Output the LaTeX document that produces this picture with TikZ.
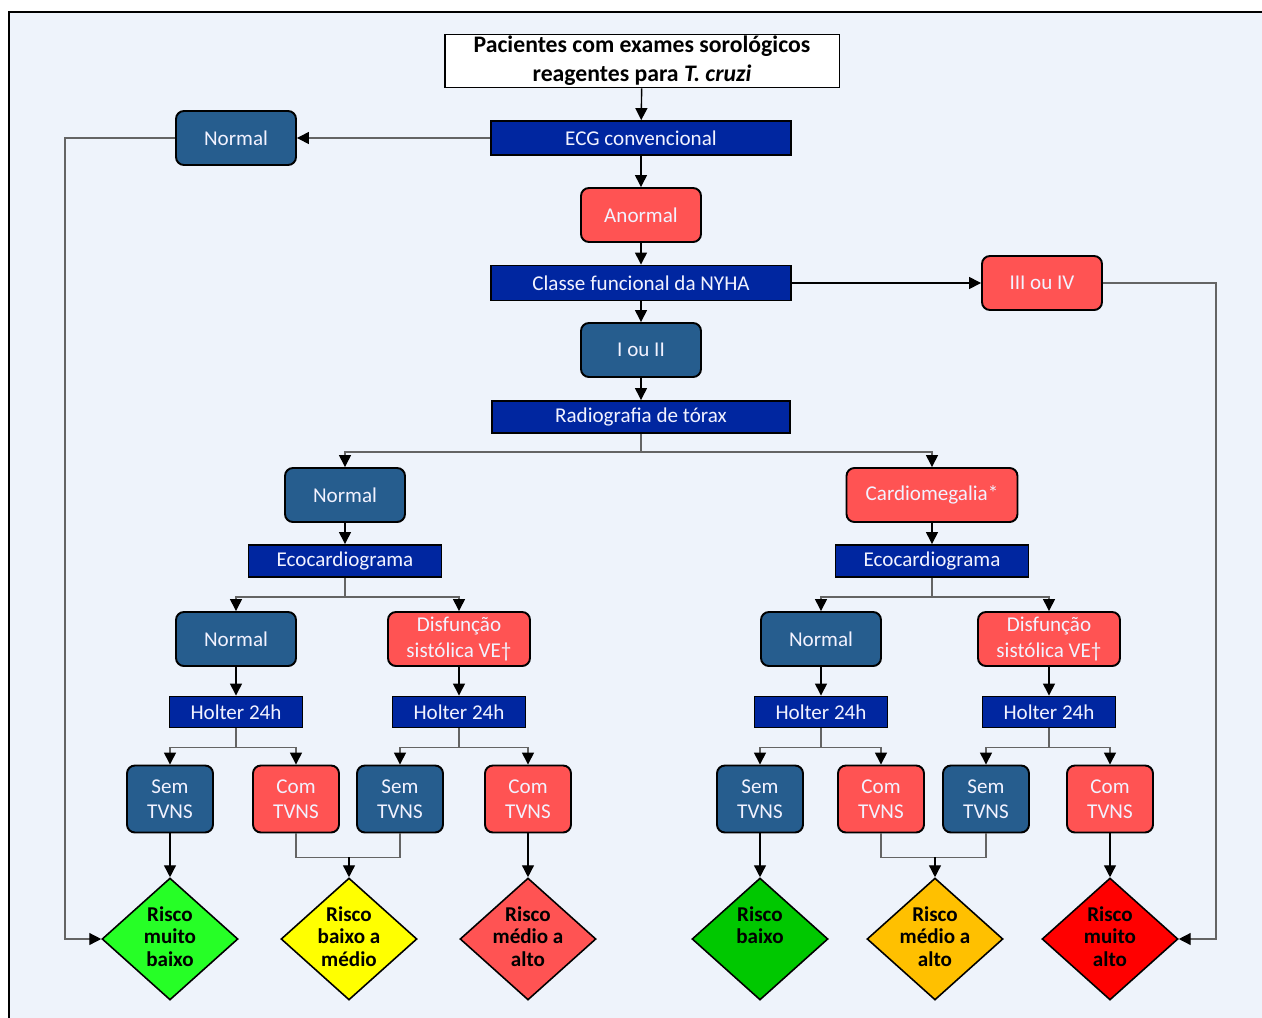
\documentclass[tikz,border=0pt]{standalone}
\usepackage{fontspec}
\setmainfont{Carlito}
\usetikzlibrary{arrows.meta,shapes.geometric,positioning}
\definecolor{fundo}{RGB}{238,243,251}
\definecolor{azulesc}{RGB}{0,38,160}
\definecolor{azulaco}{RGB}{38,93,142}
\definecolor{vermclaro}{RGB}{255,83,83}
\definecolor{verdeclaro}{RGB}{38,255,38}
\definecolor{amarelo}{RGB}{255,255,0}
\definecolor{verdeesc}{RGB}{0,200,0}
\definecolor{laranja}{RGB}{255,192,0}
\definecolor{vermelho}{RGB}{255,0,0}
\definecolor{linhacinza}{RGB}{100,100,100}

\tikzset{
  exame/.style={draw=black,line width=1.1pt,fill=azulesc,text=white!95!blue,
    font=\fontsize{12}{14}\selectfont,inner sep=0pt,
    minimum width=3.86cm,minimum height=0.64cm},
  achado/.style={draw=black,line width=1.1pt,rounded corners=4.5pt,text=white!95!blue,
    font=\fontsize{12}{14.5}\selectfont,align=center,inner sep=0pt,
    minimum width=2.4cm,minimum height=1.08cm},
  achadoN/.style={achado,fill=azulaco},
  achadoA/.style={achado,fill=vermclaro},
  holter/.style={exame,minimum width=2.66cm,minimum height=0.62cm},
  tvns/.style={minimum width=1.72cm,minimum height=1.34cm},
  risco/.style={diamond,draw=black,line width=0.9pt,inner sep=0pt,
    minimum width=2.72cm,minimum height=2.44cm},
  riscoTxt/.style={anchor=north,inner sep=0pt,align=center,
    font=\fontsize{12}{13}\selectfont\bfseries},
  seta/.style={draw=black,line width=0.8pt,
    -{Triangle[length=6.8pt,width=6.8pt,color=black]}},
  setaC/.style={seta,draw=linhacinza},
  linhaC/.style={draw=linhacinza,line width=0.8pt}
}

\begin{document}
\begin{tikzpicture}[x=0.02cm,y=-0.02cm]
\useasboundingbox (0,0) rectangle (1262,1018);
\begin{scope}
  \clip (0,0) rectangle (1262,1018);
  \fill[fundo] (9,12) rectangle (1290,1040);
  \draw[line width=1.7pt] (9,1040) -- (9,12) -- (1290,12);
\end{scope}

% topo
\node[draw=black,line width=1.1pt,fill=white,align=center,inner sep=0pt,
  minimum width=7.9cm,minimum height=1.06cm,
  font=\fontsize{13.5}{16.5}\selectfont\bfseries] (pacientes) at (642,61)
  {\raisebox{-2pt}{Pacientes com exames sorológicos}\\\raisebox{-2pt}{reagentes para \textit{T. cruzi}}};
\node[exame,minimum width=6cm,minimum height=0.68cm] (ecg) at (641,138) {ECG convencional};
\node[achadoN] (normEcg) at (236,138) {Normal};
\node[achadoA] (anormal) at (641,215) {Anormal};
\node[exame,minimum width=6cm,minimum height=0.7cm] (nyha) at (641,283) {Classe funcional da NYHA};
\node[achadoA] (classeAlta) at (1042,283) {III ou IV};
\node[achadoN] (classeBaixa) at (641,350) {I ou II};
\node[exame,minimum width=5.96cm] (radio) at (641,417) {Radiografia de tórax};

% ramos da radiografia
\node[achadoN] (normRx) at (345,495) {Normal};
\node[achadoA,minimum width=3.42cm] (cardio) at (932,495) {Cardiomegalia*};
\node[exame] (ecoN) at (345,561) {Ecocardiograma};
\node[exame] (ecoC) at (932,561) {Ecocardiograma};
\node[achadoN] (normEcoN) at (236,639) {Normal};
\node[achadoA,minimum width=2.84cm] (disfN) at (459,639) {Disfunção\\sistólica VE†};
\node[achadoN] (normEcoC) at (821,639) {Normal};
\node[achadoA,minimum width=2.84cm] (disfC) at (1049,639) {Disfunção\\sistólica VE†};
\node[holter] (holter1) at (236,712) {Holter 24h};
\node[holter] (holter2) at (459,712) {Holter 24h};
\node[holter] (holter3) at (821,712) {Holter 24h};
\node[holter] (holter4) at (1049,712) {Holter 24h};

\node[achadoN,tvns] (sem1) at (170,799) {Sem\\TVNS};
\node[achadoA,tvns] (com1) at (296,799) {Com\\TVNS};
\node[achadoN,tvns] (sem2) at (400,799) {Sem\\TVNS};
\node[achadoA,tvns] (com2) at (528,799) {Com\\TVNS};
\node[achadoN,tvns] (sem3) at (760,799) {Sem\\TVNS};
\node[achadoA,tvns] (com3) at (881,799) {Com\\TVNS};
\node[achadoN,tvns] (sem4) at (986,799) {Sem\\TVNS};
\node[achadoA,tvns] (com4) at (1110,799) {Com\\TVNS};

% riscos
\node[risco,fill=verdeclaro] (riscoMB) at (170,939) {};
\node[risco,fill=amarelo] (riscoBM) at (349,939) {};
\node[risco,fill=vermclaro] (riscoMA) at (528,939) {};
\node[risco,fill=verdeesc] (riscoB) at (760,939) {};
\node[risco,fill=laranja] (riscoMAl) at (935,939) {};
\node[risco,fill=vermelho] (riscoMAlto) at (1110,939) {};
\node[riscoTxt] (txtMB) at (170,906) {Risco\\muito\\baixo};
\node[riscoTxt] (txtBM) at (349,906) {Risco\\baixo a\\médio};
\node[riscoTxt] (txtMA) at (528,906) {Risco\\médio a\\alto};
\node[riscoTxt] (txtB) at (760,906) {Risco\\baixo};
\node[riscoTxt] (txtMAl) at (935,906) {Risco\\médio a\\alto};
\node[riscoTxt] (txtMAlto) at (1110,906) {Risco\\muito\\alto};

% conexoes
\draw[seta] (pacientes) -- (ecg);
\draw[setaC] (ecg) -- (normEcg);
\draw[setaC] (normEcg.west) -- ++(-110,0) |- (riscoMB.west);
\draw[seta] (ecg) -- (anormal);
\draw[seta] (anormal) -- (nyha);
\draw[seta] (nyha) -- (classeAlta);
\draw[setaC] (classeAlta.east) -- ++(113,0) |- (riscoMAlto.east);
\draw[seta] (nyha) -- (classeBaixa);
\draw[seta] (classeBaixa) -- (radio);

\draw[linhaC] (radio.south) -- ++(0,18) coordinate (bifRx);
\draw[setaC] (bifRx) -| (normRx.north);
\draw[setaC] (bifRx) -| (cardio.north);
\draw[seta] (normRx) -- (ecoN);
\draw[seta] (cardio) -- (ecoC);

\draw[linhaC] (ecoN.south) -- ++(0,19) coordinate (bifEcoN);
\draw[setaC] (bifEcoN) -| (normEcoN.north);
\draw[setaC] (bifEcoN) -| (disfN.north);
\draw[linhaC] (ecoC.south) -- ++(0,19) coordinate (bifEcoC);
\draw[setaC] (bifEcoC) -| (normEcoC.north);
\draw[setaC] (bifEcoC) -| (disfC.north);

\draw[seta] (normEcoN) -- (holter1);
\draw[seta] (disfN) -- (holter2);
\draw[seta] (normEcoC) -- (holter3);
\draw[seta] (disfC) -- (holter4);

\draw[linhaC] (holter1.south) -- ++(0,19) coordinate (bifH1);
\draw[setaC] (bifH1) -| (sem1.north);
\draw[setaC] (bifH1) -| (com1.north);
\draw[linhaC] (holter2.south) -- ++(0,19) coordinate (bifH2);
\draw[setaC] (bifH2) -| (sem2.north);
\draw[setaC] (bifH2) -| (com2.north);
\draw[linhaC] (holter3.south) -- ++(0,19) coordinate (bifH3);
\draw[setaC] (bifH3) -| (sem3.north);
\draw[setaC] (bifH3) -| (com3.north);
\draw[linhaC] (holter4.south) -- ++(0,19) coordinate (bifH4);
\draw[setaC] (bifH4) -| (sem4.north);
\draw[setaC] (bifH4) -| (com4.north);

\draw[seta] (sem1) -- (riscoMB);
\draw[linhaC] (com1.south) -- ++(0,24) coordinate (uniao1) -| (sem2.south);
\draw[seta] (uniao1 -| riscoBM.north) -- (riscoBM.north);
\draw[seta] (com2) -- (riscoMA);
\draw[seta] (sem3) -- (riscoB);
\draw[linhaC] (com3.south) -- ++(0,24) coordinate (uniao2) -| (sem4.south);
\draw[seta] (uniao2 -| riscoMAl.north) -- (riscoMAl.north);
\draw[seta] (com4) -- (riscoMAlto);
\end{tikzpicture}
\end{document}
